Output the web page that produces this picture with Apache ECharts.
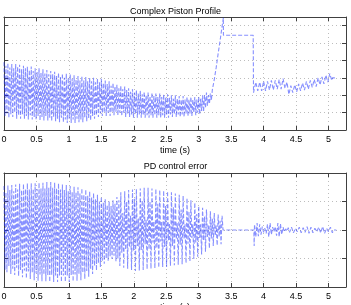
<!DOCTYPE html>
<html><head><meta charset="utf-8">
<script src="https://cdn.jsdelivr.net/npm/echarts@6/dist/echarts.min.js"></script>
<style>html,body{margin:0;padding:0;background:#fff}#c{width:351px;height:305px}</style>
</head><body><div id="c"></div>
<script>
// ---- titles / axis text ----
const titles = ['Complex Piston Profile', 'PD control error'];
const xName = 'time (s)';
const xTicks = [0, 0.5, 1, 1.5, 2, 2.5, 3, 3.5, 4, 4.5, 5];
const pistonYTicks = [0.02, 0.04, 0.06, 0.08, 0.1, 0.12];
const errorYTicks = [-0.005, 0, 0.005];

// ---- Complex Piston Profile (time, position) ----
const pistonOsc = [
 [0.000,0.078],[0.015,0.016],[0.030,0.074],[0.045,0.019],[0.060,0.077],[0.075,0.014],[0.090,0.072],[0.105,0.018],
 [0.120,0.076],[0.135,0.015],[0.150,0.071],[0.165,0.020],[0.180,0.076],[0.195,0.013],[0.210,0.073],[0.225,0.017],
 [0.240,0.075],[0.255,0.013],[0.270,0.070],[0.285,0.018],[0.300,0.074],[0.315,0.013],[0.330,0.071],[0.345,0.016],
 [0.360,0.073],[0.375,0.012],[0.390,0.069],[0.405,0.017],[0.420,0.073],[0.435,0.012],[0.450,0.068],[0.465,0.015],
 [0.480,0.071],[0.495,0.012],[0.510,0.067],[0.525,0.016],[0.540,0.071],[0.555,0.011],[0.570,0.066],[0.585,0.015],
 [0.600,0.070],[0.615,0.011],[0.630,0.065],[0.645,0.016],[0.660,0.069],[0.675,0.011],[0.690,0.064],[0.705,0.014],
 [0.720,0.068],[0.735,0.010],[0.750,0.064],[0.765,0.015],[0.780,0.067],[0.795,0.010],[0.810,0.062],[0.825,0.013],
 [0.840,0.066],[0.855,0.009],[0.870,0.061],[0.885,0.014],[0.900,0.065],[0.915,0.009],[0.930,0.060],[0.945,0.012],
 [0.960,0.065],[0.975,0.008],[0.990,0.060],[1.005,0.013],[1.020,0.064],[1.035,0.008],[1.050,0.059],[1.065,0.012],
 [1.080,0.063],[1.095,0.008],[1.110,0.058],[1.125,0.013],[1.140,0.062],[1.155,0.009],[1.170,0.057],[1.185,0.012],
 [1.200,0.062],[1.215,0.009],[1.230,0.057],[1.245,0.014],[1.260,0.061],[1.275,0.010],[1.290,0.056],[1.305,0.013],
 [1.320,0.060],[1.335,0.011],[1.350,0.056],[1.365,0.016],[1.380,0.060],[1.395,0.013],[1.410,0.055],[1.425,0.017],
 [1.440,0.059],[1.455,0.015],[1.470,0.055],[1.485,0.019],[1.500,0.059],[1.515,0.016],[1.530,0.054],[1.545,0.020],
 [1.560,0.057],[1.575,0.016],[1.590,0.053],[1.605,0.020],[1.620,0.056],[1.635,0.016],[1.650,0.051],[1.665,0.020],
 [1.680,0.054],[1.695,0.017],[1.710,0.050],[1.725,0.021],[1.740,0.052],[1.755,0.017],[1.770,0.048],[1.785,0.020],
 [1.800,0.051],[1.815,0.016],[1.830,0.047],[1.845,0.020],[1.860,0.050],[1.875,0.015],[1.890,0.046],[1.905,0.019],
 [1.920,0.048],[1.935,0.015],[1.950,0.044],[1.965,0.018],[1.980,0.047],[1.995,0.014],[2.010,0.043],[2.025,0.018],
 [2.040,0.046],[2.055,0.014],[2.070,0.042],[2.085,0.018],[2.100,0.045],[2.115,0.014],[2.130,0.041],[2.145,0.017],
 [2.160,0.044],[2.175,0.014],[2.190,0.040],[2.205,0.017],[2.220,0.043],[2.235,0.014],[2.250,0.039],[2.265,0.017],
 [2.280,0.043],[2.295,0.014],[2.310,0.039],[2.325,0.017],[2.340,0.042],[2.355,0.014],[2.370,0.038],[2.385,0.017],
 [2.400,0.042],[2.415,0.014],[2.430,0.038],[2.445,0.017],[2.460,0.041],[2.475,0.014],[2.490,0.037],[2.505,0.017],
 [2.520,0.041],[2.535,0.014],[2.550,0.037],[2.565,0.018],[2.580,0.040],[2.595,0.015],[2.610,0.036],[2.625,0.018],
 [2.640,0.040],[2.655,0.015],[2.670,0.036],[2.685,0.018],[2.700,0.039],[2.715,0.015],[2.730,0.035],[2.745,0.018],
 [2.760,0.039],[2.775,0.015],[2.790,0.035],[2.805,0.019],[2.820,0.038],[2.835,0.016],[2.850,0.035],[2.865,0.019],
 [2.880,0.038],[2.895,0.016],[2.910,0.035],[2.925,0.020],[2.940,0.038],[2.955,0.017],[2.970,0.035],[2.985,0.020],
 [3.000,0.038],[3.015,0.018],[3.030,0.036],[3.045,0.022],[3.060,0.040],[3.075,0.021],[3.090,0.040],[3.105,0.025],
 [3.120,0.043]
];
const pistonRise = [
 [3.135,0.028],[3.150,0.040],[3.165,0.030],[3.180,0.042],[3.195,0.034],[3.210,0.046],[3.225,0.044],[3.240,0.058],
 [3.255,0.056],[3.270,0.072],[3.285,0.070],[3.300,0.088],[3.315,0.086],[3.330,0.103],[3.345,0.101],[3.360,0.119],
 [3.380,0.129]
];
const pistonHold = [[3.381,0.109],[3.84,0.109],[3.845,0.043]];
const pistonBand1 = [
 [3.85,0.043],[3.88,0.055],[3.91,0.045],[3.94,0.055],[3.97,0.045],[4.00,0.056],[4.03,0.045],[4.06,0.056],
 [4.09,0.046],[4.12,0.057],[4.15,0.046],[4.18,0.057],[4.21,0.047],[4.24,0.058],[4.27,0.047],[4.30,0.059],
 [4.33,0.048],[4.36,0.055],[4.39,0.041]
];
const pistonBand2 = [
 [4.42,0.051],[4.45,0.043],[4.48,0.052],[4.51,0.044],[4.54,0.053],[4.57,0.045],[4.60,0.054],[4.63,0.046],
 [4.66,0.056],[4.69,0.047],[4.72,0.057],[4.75,0.049],[4.78,0.058],[4.81,0.050],[4.84,0.060],[4.87,0.052],
 [4.90,0.061],[4.93,0.053],[4.96,0.063],[4.99,0.055],[5.02,0.065],[5.05,0.057]
];
const pistonTail = [[5.06,0.060],[5.12,0.060]];

// ---- PD control error (time, error) ----
const errorOsc = [
 [0.000,0.0077],[0.015,-0.0070],[0.030,0.0066],[0.045,-0.0074],[0.060,0.0078],[0.075,-0.0063],[0.090,0.0070],[0.105,-0.0077],
 [0.120,0.0079],[0.135,-0.0068],[0.150,0.0068],[0.165,-0.0079],[0.180,0.0080],[0.195,-0.0066],[0.210,0.0071],[0.225,-0.0081],
 [0.240,0.0081],[0.255,-0.0070],[0.270,0.0070],[0.285,-0.0083],[0.300,0.0081],[0.315,-0.0071],[0.330,0.0072],[0.345,-0.0085],
 [0.360,0.0082],[0.375,-0.0073],[0.390,0.0071],[0.405,-0.0086],[0.420,0.0082],[0.435,-0.0075],[0.450,0.0072],[0.465,-0.0088],
 [0.480,0.0082],[0.495,-0.0076],[0.510,0.0072],[0.525,-0.0089],[0.540,0.0083],[0.555,-0.0078],[0.570,0.0073],[0.585,-0.0090],
 [0.600,0.0083],[0.615,-0.0078],[0.630,0.0073],[0.645,-0.0090],[0.660,0.0084],[0.675,-0.0079],[0.690,0.0074],[0.705,-0.0091],
 [0.720,0.0084],[0.735,-0.0079],[0.750,0.0074],[0.765,-0.0091],[0.780,0.0083],[0.795,-0.0080],[0.810,0.0073],[0.825,-0.0091],
 [0.840,0.0082],[0.855,-0.0080],[0.870,0.0071],[0.885,-0.0091],[0.900,0.0080],[0.915,-0.0080],[0.930,0.0070],[0.945,-0.0091],
 [0.960,0.0079],[0.975,-0.0080],[0.990,0.0068],[1.005,-0.0091],[1.020,0.0077],[1.035,-0.0079],[1.050,0.0067],[1.065,-0.0090],
 [1.080,0.0076],[1.095,-0.0078],[1.110,0.0066],[1.125,-0.0089],[1.140,0.0075],[1.155,-0.0077],[1.170,0.0064],[1.185,-0.0088],
 [1.200,0.0073],[1.215,-0.0075],[1.230,0.0062],[1.245,-0.0086],[1.260,0.0071],[1.275,-0.0072],[1.290,0.0060],[1.305,-0.0082],
 [1.320,0.0068],[1.335,-0.0068],[1.350,0.0057],[1.365,-0.0077],[1.380,0.0065],[1.395,-0.0063],[1.410,0.0054],[1.425,-0.0071],
 [1.440,0.0062],[1.455,-0.0058],[1.470,0.0050],[1.485,-0.0065],[1.500,0.0058],[1.515,-0.0054],[1.530,0.0048],[1.545,-0.0059],
 [1.560,0.0054],[1.575,-0.0050],[1.590,0.0044],[1.605,-0.0054],[1.620,0.0050],[1.635,-0.0046],[1.650,0.0042],[1.665,-0.0051],
 [1.680,0.0052],[1.695,-0.0045],[1.710,0.0046],[1.725,-0.0055],[1.740,0.0058],[1.755,-0.0050],[1.770,0.0052],[1.785,-0.0063],
 [1.800,0.0066],[1.815,-0.0040],[1.830,0.0030],[1.845,-0.0066],[1.860,0.0068],[1.875,-0.0035],[1.890,0.0050],[1.905,-0.0068],
 [1.920,0.0070],[1.935,-0.0030],[1.950,0.0025],[1.965,-0.0070],[1.980,0.0071],[1.995,-0.0036],[2.010,0.0055],[2.025,-0.0072],
 [2.040,0.0072],[2.055,-0.0028],[2.070,0.0020],[2.085,-0.0071],[2.100,0.0073],[2.115,-0.0035],[2.130,0.0052],[2.145,-0.0070],
 [2.160,0.0074],[2.175,-0.0025],[2.190,0.0018],[2.205,-0.0069],[2.220,0.0074],[2.235,-0.0034],[2.250,0.0050],[2.265,-0.0068],
 [2.280,0.0073],[2.295,-0.0022],[2.310,0.0015],[2.325,-0.0067],[2.340,0.0072],[2.355,-0.0032],[2.370,0.0046],[2.385,-0.0066],
 [2.400,0.0070],[2.415,-0.0020],[2.430,0.0014],[2.445,-0.0065],[2.460,0.0069],[2.475,-0.0030],[2.490,0.0042],[2.505,-0.0065],
 [2.520,0.0068],[2.535,-0.0018],[2.550,0.0012],[2.565,-0.0063],[2.580,0.0066],[2.595,-0.0028],[2.610,0.0040],[2.625,-0.0062],
 [2.640,0.0064],[2.655,-0.0016],[2.670,0.0012],[2.685,-0.0061],[2.700,0.0062],[2.715,-0.0026],[2.730,0.0036],[2.745,-0.0060],
 [2.760,0.0060],[2.775,-0.0015],[2.790,0.0010],[2.805,-0.0058],[2.820,0.0056],[2.835,-0.0024],[2.850,0.0032],[2.865,-0.0055],
 [2.880,0.0052],[2.895,-0.0014],[2.910,0.0010],[2.925,-0.0051],[2.940,0.0048],[2.955,-0.0022],[2.970,0.0028],[2.985,-0.0047],
 [3.000,0.0042],[3.015,-0.0014],[3.030,0.0010],[3.045,-0.0043],[3.060,0.0039],[3.075,-0.0018],[3.090,0.0024],[3.105,-0.0038],
 [3.120,0.0036],[3.135,-0.0012],[3.150,0.0008],[3.165,-0.0032],[3.180,0.0033],[3.195,-0.0015],[3.210,0.0020],[3.225,-0.0028],
 [3.240,0.0030],[3.255,-0.0010],[3.270,0.0008],[3.285,-0.0027],[3.300,0.0027],[3.315,-0.0012],[3.330,0.0016],[3.345,-0.0025],
 [3.360,0.0025],[3.375,0.0000]
];
const errorHold = [[3.85,0.0000],[3.855,-0.0028]];
const errorBand1 = [
 [3.86,0.0010],[3.88,-0.0012],[3.90,0.0012],[3.92,-0.0011],[3.94,0.0010],[3.96,-0.0008],[3.98,0.0006],[4.00,-0.0004],
 [4.02,0.0003],[4.04,-0.0006],[4.06,0.0010],[4.08,-0.0012],[4.10,0.0012],[4.12,-0.0008],[4.14,0.0005],[4.16,-0.0003],
 [4.18,0.0006],[4.20,-0.0010],[4.22,0.0012],[4.24,-0.0012],[4.26,0.0011],[4.28,-0.0008],[4.30,0.0005],[4.32,-0.0003],
 [4.34,0.0002],[4.36,-0.0002]
];
const errorBand2 = [
 [4.38,0.0004],[4.40,-0.0004],[4.43,0.0005],[4.46,-0.0005],[4.49,0.0003],[4.52,-0.0003],[4.55,0.0005],[4.58,-0.0005],
 [4.61,0.0004],[4.64,-0.0004],[4.67,0.0006],[4.70,-0.0006],[4.73,0.0005],[4.76,-0.0005],[4.79,0.0003],[4.82,-0.0003],
 [4.85,0.0005],[4.88,-0.0005],[4.91,0.0006],[4.94,-0.0006],[4.97,0.0003],[5.00,-0.0003],[5.03,0.0005],[5.06,-0.0005],
 [5.08,0.0000]
];
const errorTail = [[5.12,0.0000]];

// ---- build chart ----
const FONT = '"Liberation Sans", Arial, sans-serif';
const AX = '#404040';
const GRIDC = '#bdbdbd';
const X_MAX = 5.27;

function xAxes(gi) {
  const base = {
    type: 'value', gridIndex: gi, min: 0, max: X_MAX, interval: 0.5,
    axisLine: { show: true, onZero: false, lineStyle: { color: AX, width: 1 } },
    axisTick: { show: true, inside: true, length: 4, lineStyle: { color: AX } },
    splitLine: { show: false }
  };
  return [
    Object.assign({}, base, {
      position: 'bottom',
      name: xName, nameLocation: 'middle', nameGap: 16,
      nameTextStyle: { color: '#000', fontSize: 9, fontFamily: FONT },
      axisLabel: { show: true, margin: 5, color: '#000', fontSize: 9, fontFamily: FONT,
        showMaxLabel: false,
        formatter: v => xTicks.indexOf(+v.toFixed(2)) >= 0 ? String(+v.toFixed(2)) : '' },
      splitLine: { show: true, lineStyle: { color: GRIDC, width: 1, type: [1, 3] } }
    }),
    Object.assign({}, base, { position: 'top', axisLabel: { show: false } })
  ];
}
function yAxes(gi, min, max, interval, ticks) {
  const base = {
    type: 'value', gridIndex: gi, min: min, max: max, interval: interval,
    axisLine: { show: true, onZero: false, lineStyle: { color: AX, width: 1 } },
    axisTick: { show: true, inside: true, length: 4, lineStyle: { color: AX } },
    splitLine: { show: false }
  };
  return [
    Object.assign({}, base, {
      position: 'left',
      axisLabel: { show: true, margin: 5, color: '#000', fontSize: 9, fontFamily: FONT,
        showMinLabel: false, showMaxLabel: false,
        formatter: v => { const r = +v.toFixed(4); return ticks.indexOf(r) >= 0 ? String(r) : ''; } },
      splitLine: { show: true, lineStyle: { color: GRIDC, width: 1, type: [1, 3] } }
    }),
    Object.assign({}, base, { position: 'right', axisLabel: { show: false } })
  ];
}

const lineStyle = { color: '#2233ff', width: 1.1, type: [4, 2], opacity: 0.55 };
const pistonData = [].concat(pistonOsc, pistonRise, pistonHold, pistonBand1, pistonBand2, pistonTail);
const errorData = [].concat(errorOsc, errorHold, errorBand1, errorBand2, errorTail);

const chart = echarts.init(document.getElementById('c'), null, { renderer: 'canvas' });
chart.setOption({
  animation: false,
  backgroundColor: '#fff',
  title: [
    { text: titles[0], left: 'center', top: 2, textStyle: { fontSize: 9, fontWeight: 'normal', color: '#000', fontFamily: FONT } },
    { text: titles[1], left: 'center', top: 157, textStyle: { fontSize: 9, fontWeight: 'normal', color: '#000', fontFamily: FONT } }
  ],
  grid: [
    { left: 4, right: 5, top: 17, height: 113, containLabel: false, outerBoundsMode: 'none' },
    { left: 4, right: 5, top: 173, height: 114, containLabel: false, outerBoundsMode: 'none' }
  ],
  xAxis: [].concat(xAxes(0), xAxes(1)),
  yAxis: [].concat(yAxes(0, 0, 0.13, 0.02, pistonYTicks), yAxes(1, -0.01, 0.01, 0.005, errorYTicks)),
  series: [
    { type: 'line', xAxisIndex: 0, yAxisIndex: 0, data: pistonData, showSymbol: false, symbol: 'none', lineStyle: lineStyle, silent: true },
    { type: 'line', xAxisIndex: 2, yAxisIndex: 2, data: errorData, showSymbol: false, symbol: 'none', lineStyle: lineStyle, silent: true }
  ]
});
</script></body></html>
